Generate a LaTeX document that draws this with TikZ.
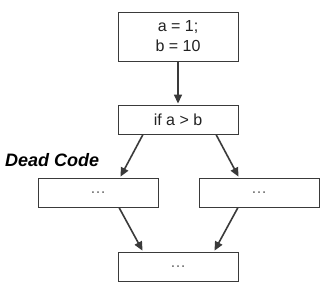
\documentclass[tikz,border=0pt]{standalone}
\usepackage{fontspec}
\setmainfont{Liberation Sans}
\usetikzlibrary{arrows.meta}
\definecolor{ln}{HTML}{3A3A3A}
\definecolor{tx}{HTML}{222222}
\definecolor{dt}{HTML}{666666}
\begin{document}
\begin{tikzpicture}[x=1pt,y=-1pt,
  blk/.style={draw=ln,line width=0.9pt,minimum width=120pt,inner sep=0pt,text=tx,font=\fontsize{16}{20}\selectfont,align=center},
  conn/.style={draw=ln,line width=1.6pt,-{Triangle[length=9pt,width=8pt]},shorten >=1pt}]
\useasboundingbox[fill=white] (0,0) rectangle (327,289);
\node[blk,minimum height=49pt] (init) at (178,36.5) {a = 1;\\b = 10};
\node[blk,minimum height=29pt] (cond) at (178,119.5) {if a > b};
\node[blk,minimum height=29pt] (left) at (98,192.5) {\textcolor{dt}{\dots}};
\node[blk,minimum height=29pt] (right) at (259,192.5) {\textcolor{dt}{\dots}};
\node[blk,minimum height=29pt] (join) at (178,266.5) {\textcolor{dt}{\dots}};
\node[font=\fontsize{18}{20}\selectfont\bfseries\itshape,inner sep=0pt,anchor=west] (dead) at (5,160) {Dead Code};
\draw[conn] (init.south) -- (cond.north);
\draw[conn] ([xshift=-35pt]cond.south) -- ([xshift=22pt]left.north);
\draw[conn] ([xshift=38pt]cond.south) -- ([xshift=-20pt]right.north);
\draw[conn] ([xshift=21pt]left.south) -- ([xshift=-35pt]join.north);
\draw[conn] ([xshift=-21pt]right.south) -- ([xshift=36pt]join.north);
\end{tikzpicture}
\end{document}
